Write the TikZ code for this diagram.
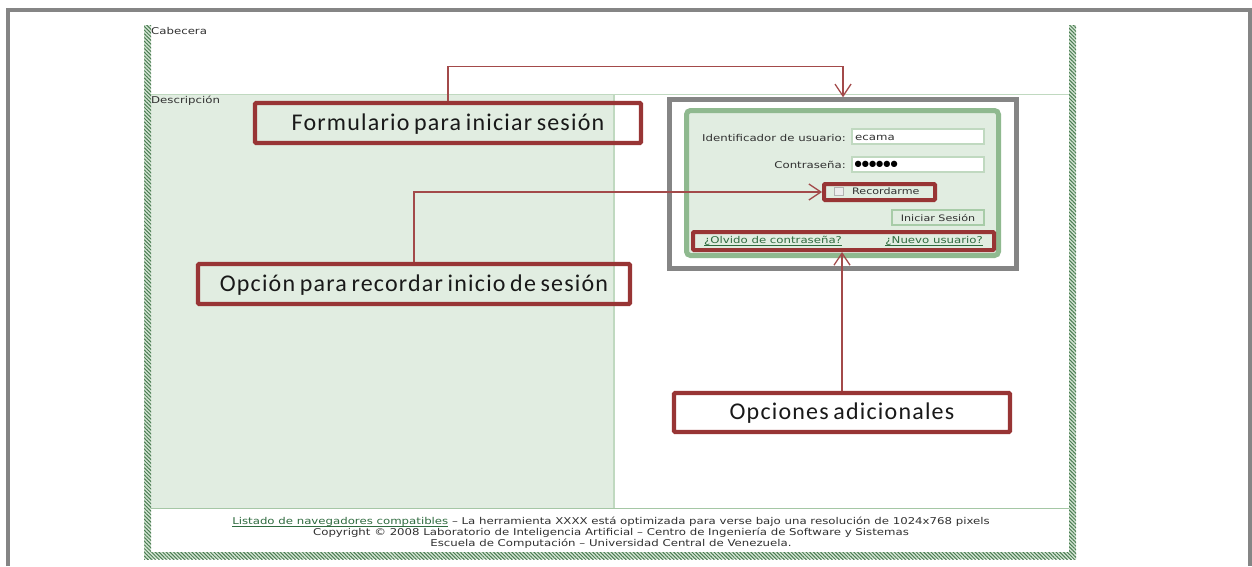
\documentclass[tikz,border=0pt]{standalone}
\usepackage{fontspec}
\usetikzlibrary{arrows.meta,patterns.meta}
\setmainfont{DejaVu Sans}
\newfontfamily\webfont[FakeStretch=1.25]{DejaVu Sans}
\newfontfamily\labelfont[LetterSpace=5,WordSpace=0.7]{Carlito}
\definecolor{panelgreen}{HTML}{E1EDE1}
\definecolor{rulegreen}{HTML}{C0D9C0}
\definecolor{btnborder}{HTML}{A8CCA8}
\definecolor{formgreen}{HTML}{8FB98F}
\definecolor{hatchdark}{HTML}{4A7D52}
\definecolor{hatchlight}{HTML}{D5E5D5}
\definecolor{calloutred}{HTML}{983535}
\definecolor{arrowred}{HTML}{A34A4A}
\definecolor{framegray}{HTML}{858585}
\definecolor{webtext}{HTML}{303030}
\definecolor{linkgreen}{HTML}{2F6B3F}
\newcommand{\weblink}[1]{\vphantom{#1}\textcolor{linkgreen}{\underline{\smash{#1}}}}
\newcommand{\calltext}[1]{\raisebox{-7.2pt}[0pt][0pt]{#1}}
\tikzset{
  webtxt/.style={font=\webfont\fontsize{9.4pt}{11pt}\selectfont,text=webtext,inner sep=0pt},
  webtxtsmall/.style={font=\webfont\fontsize{8.9pt}{11pt}\selectfont,text=webtext,inner sep=0pt},
  callout/.style={draw=calloutred,line width=4.2pt,rounded corners=1pt,inner sep=0pt,
    font=\labelfont\fontsize{24pt}{26pt}\selectfont,text=black!90},
  markbox/.style={draw=calloutred,line width=4pt,rounded corners=1pt,inner sep=0pt},
  inputbox/.style={draw=rulegreen,line width=1.5pt,fill=white,inner sep=0pt},
  lead/.style={draw=arrowred,line width=1.3pt},
  openarrow/.style={-{Straight Barb[length=12pt,width=16pt,line width=1.3pt]}},
  hatch/.style={fill=hatchlight,postaction={pattern={Lines[angle=-45,distance=2.6pt,line width=1pt]},pattern color=hatchdark}},
}
\begin{document}
\begin{tikzpicture}[x=1pt,y=-1pt]
\useasboundingbox (0,0) rectangle (1252,566);
\fill[white] (0,0) rectangle (1252,566);
% outer frame
\draw[framegray,line width=4pt] (7.5,566) -- (7.5,9.5) -- (1250,9.5) -- (1250,566);
% page
\fill[panelgreen] (151,95) rectangle (614,508);
\draw[rulegreen,line width=1.2pt] (151,94.5) -- (1069,94.5);
\draw[rulegreen,line width=1.5pt] (614,95) -- (614,508);
\draw[formgreen!80,line width=1.2pt] (151,508.5) -- (1069,508.5);
\fill[hatch] (144,25) rectangle (151,559);
\fill[hatch] (1069,25) rectangle (1076,559);
\fill[hatch] (144,552) rectangle (1076,559);
\node[webtxt,anchor=west] (cab) at (151,31) {Cabecera};
\node[webtxt,anchor=west] (desc) at (151,100.5) {Descripción};
% login
\node[draw=framegray,line width=4.5pt,minimum width=347pt,minimum height=169pt,inner sep=0pt] (login) at (843,184) {};
\node[draw=formgreen,fill=panelgreen,line width=5pt,rounded corners=4pt,minimum width=312pt,minimum height=145pt,inner sep=0pt] (form) at (842.5,183) {};
\node[inputbox,minimum width=132pt,minimum height=15pt] (user) at (918,136.5) {};
\node[inputbox,minimum width=132pt,minimum height=15pt] (pass) at (918,164.5) {};
\node[inputbox,draw=btnborder,fill=panelgreen,minimum width=92pt,minimum height=15pt] (btn) at (938,217.5) {};
\node[webtxtsmall] (btntxt) at (938,217.5) {Iniciar Sesión};
\node[webtxt,anchor=east] (userlab) at (846,138) {Identificador de usuario:};
\node[webtxt,anchor=east] (passlab) at (846,165) {Contraseña:};
\node[webtxt,anchor=west] (usertxt) at (855,138) {ecama};
\node[inner sep=0pt,anchor=west,text=black,font=\fontsize{8.2pt}{10pt}\selectfont] (passtxt) at (854.5,164.5) {●●●●●●};
\node[draw=gray!60,fill=gray!15,line width=1pt,minimum width=9pt,minimum height=8pt,inner sep=0pt] (chk) at (839,191) {};
\node[webtxtsmall,anchor=west] (rec) at (852,191) {Recordarme};
\node[markbox,minimum width=111pt,minimum height=16pt] (recbox) at (879.5,192) {};
\node[webtxt,anchor=west] (olv) at (704,241) {\weblink{¿Olvido de contraseña?}};
\node[webtxt,anchor=east] (nue) at (983,241) {\weblink{¿Nuevo usuario?}};
\node[markbox,minimum width=301pt,minimum height=18pt] (optbox) at (843.5,241) {};
% callouts
\node[callout,minimum width=386pt,minimum height=40pt] (lform) at (448,123) {\calltext{Formulario para iniciar sesión}};
\node[callout,minimum width=432pt,minimum height=40pt] (lrec) at (414,284) {\calltext{Opción para recordar inicio de sesión}};
\node[callout,minimum width=336pt,minimum height=39pt] (lopt) at (842,412.5) {\calltext{Opciones adicionales}};
% connectors
\coordinate (top) at (640,66.5);
\draw[lead,openarrow] (lform.north) |- (top) -| (login.north);
\draw[lead,openarrow] (lrec.north) |- (recbox.west);
\draw[lead,openarrow] (lopt.north) -- (lopt.north |- optbox.south);
% footer
\node[webtxt] (f1) at (611,522) {\weblink{Listado de navegadores compatibles} – La herramienta XXXX está optimizada para verse bajo una resolución de 1024x768 pixels};
\node[webtxt] (f2) at (611,532.5) {Copyright © 2008 Laboratorio de Inteligencia Artificial – Centro de Ingeniería de Software y Sistemas};
\node[webtxt] (f3) at (611,543.5) {Escuela de Computación – Universidad Central de Venezuela.};
\end{tikzpicture}
\end{document}
